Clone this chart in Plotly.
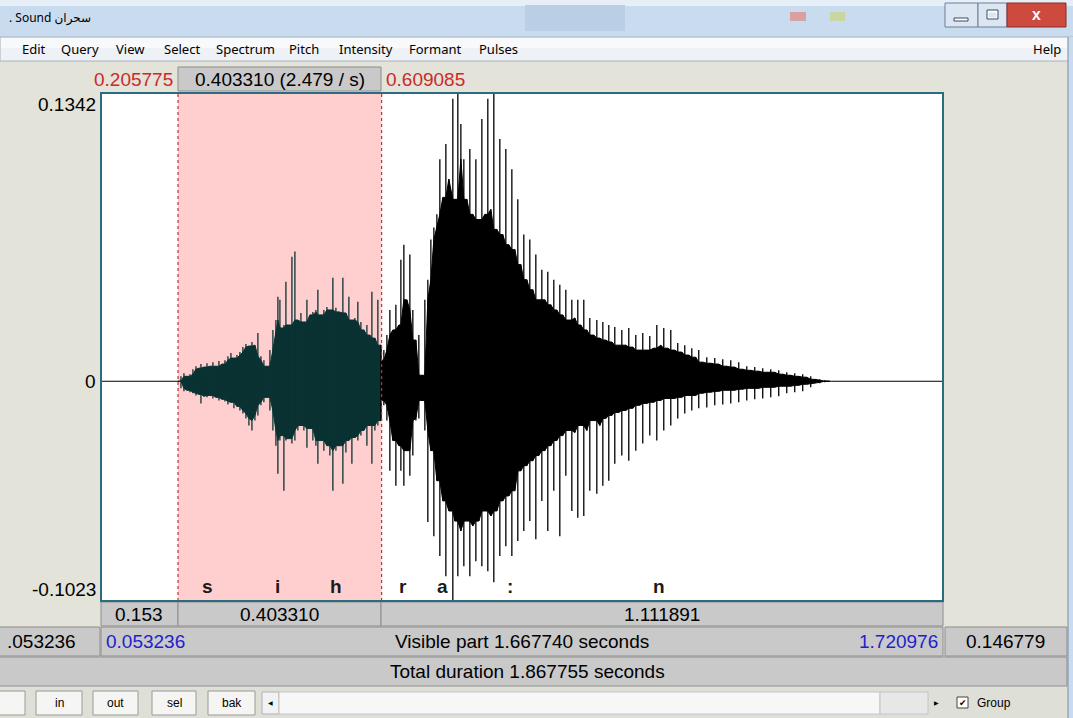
import plotly.graph_objects as go

W, H = 1073, 718

# ---------------------------------------------------------------- data
view_start, view_end = 0.053236, 1.720976
sel_start, sel_end = 0.205775, 0.609085
amp_top, amp_bottom = 0.1342, -0.1023
visible_part = 1.667740
total_duration = 1.867755
left_hidden = 0.053236
right_hidden = 0.146779
left_of_sel = 0.153
sel_length = 0.403310
right_of_sel = 1.111891

# Waveform extremes: time (s), upper (Pa), lower (Pa)
wave_t = [
    0.2056, 0.2116, 0.2175, 0.2235, 0.2294, 0.2353, 0.2413, 0.2472, 0.2512, 0.2571,
    0.2631, 0.2690, 0.2749, 0.2809, 0.2868, 0.2928, 0.2987, 0.3046, 0.3106, 0.3165,
    0.3225, 0.3284, 0.3343, 0.3403, 0.3462, 0.3522, 0.3581, 0.3640, 0.3700, 0.3759,
    0.3819, 0.3878, 0.3937, 0.3997, 0.4036, 0.4076, 0.4135, 0.4155, 0.4195, 0.4254,
    0.4314, 0.4373, 0.4432, 0.4492, 0.4551, 0.4611, 0.4670, 0.4729, 0.4789, 0.4828,
    0.4888, 0.4947, 0.5007, 0.5066, 0.5125, 0.5185, 0.5244, 0.5323, 0.5383, 0.5442,
    0.5502, 0.5561, 0.5620, 0.5680, 0.5739, 0.5799, 0.5858, 0.5898, 0.5957, 0.6016,
    0.6076,
    0.6096, 0.6135, 0.6195, 0.6254, 0.6313, 0.6373, 0.6432, 0.6472, 0.6531, 0.6591,
    0.6650, 0.6709, 0.6769, 0.6828, 0.6888, 0.6947, 0.7006, 0.7066, 0.7125, 0.7185,
    0.7244, 0.7303, 0.7363, 0.7422, 0.7501, 0.7541, 0.7600, 0.7660, 0.7719, 0.7779,
    0.7838, 0.7897, 0.7957, 0.8016, 0.8076, 0.8135, 0.8194, 0.8254, 0.8313, 0.8373,
    0.8432, 0.8491, 0.8551, 0.8610, 0.8670, 0.8729, 0.8788, 0.8848, 0.8907, 0.8967,
    0.9026, 0.9085, 0.9145, 0.9204, 0.9264, 0.9323, 0.9382, 0.9442, 0.9501, 0.9561,
    0.9620, 0.9679, 0.9739, 0.9798, 0.9858, 0.9917, 0.9976,
    1.0036, 1.0095, 1.0155, 1.0214, 1.0293, 1.0353, 1.0412, 1.0472, 1.0531, 1.0590,
    1.0650, 1.0709, 1.0788, 1.0848, 1.0927, 1.0986, 1.1065, 1.1125, 1.1204, 1.1263,
    1.1343, 1.1402, 1.1481, 1.1541, 1.1620, 1.1679, 1.1758, 1.1818, 1.1897, 1.1956,
    1.2036, 1.2095, 1.2174, 1.2234, 1.2313, 1.2372, 1.2451, 1.2531, 1.2610, 1.2689,
    1.2768, 1.2847, 1.2927, 1.3006, 1.3085, 1.3164, 1.3243, 1.3323, 1.3402, 1.3481,
    1.3560, 1.3639, 1.3719, 1.3798, 1.3877, 1.3956, 1.4035, 1.4115, 1.4194, 1.4273,
    1.4352, 1.4431, 1.4511, 1.4590, 1.4669, 1.4768, 1.4867, 1.4966,
]
wave_hi = [
    0.0, 0.0023, 0.0037, 0.0023, 0.0033, 0.0056, 0.0070, 0.0061, 0.0080, 0.0066,
    0.0084, 0.0070, 0.0089, 0.0070, 0.0094, 0.0080, 0.0098, 0.0117, 0.0131, 0.0108,
    0.0122, 0.0136, 0.0159, 0.0173, 0.0164, 0.0183, 0.0168, 0.0225, 0.0117, 0.0098,
    0.0070, 0.0145, 0.0239, 0.0285, 0.0393, 0.0379, 0.0248, 0.0262, 0.0463, 0.0262,
    0.0580, 0.0604, 0.0285, 0.0318, 0.0276, 0.0379, 0.0309, 0.0323, 0.0332, 0.0426,
    0.0309, 0.0332, 0.0346, 0.0332, 0.0482, 0.0342, 0.0323, 0.0482, 0.0318, 0.0393,
    0.0285, 0.0295, 0.0370, 0.0276, 0.0239, 0.0262, 0.0215, 0.0417, 0.0201, 0.0379,
    0.0168,
    0.0098, 0.0145, 0.0215, 0.0332, 0.0239, 0.0356, 0.0262, 0.0566, 0.0636, 0.0379,
    0.0590, 0.0332, 0.0192, 0.0215, 0.0028, 0.0379, 0.0473, 0.0660, 0.0716, 0.0777,
    0.1034, 0.0856, 0.1104, 0.0941, 0.1315, 0.0847, 0.1338, 0.1198, 0.1034, 0.0847,
    0.1081, 0.0777, 0.1034, 0.0753, 0.1221, 0.0777, 0.1315, 0.0800, 0.1338, 0.0707,
    0.1128, 0.0683, 0.1081, 0.0636, 0.0987, 0.0613, 0.0847, 0.0543, 0.0683, 0.0473,
    0.0660, 0.0426, 0.0590, 0.0379, 0.0519, 0.0379, 0.0510, 0.0356, 0.0473, 0.0332,
    0.0449, 0.0309, 0.0426, 0.0285, 0.0379, 0.0295, 0.0379,
    0.0262, 0.0379, 0.0239, 0.0295, 0.0215, 0.0285, 0.0201, 0.0276, 0.0192, 0.0262,
    0.0183, 0.0253, 0.0168, 0.0239, 0.0168, 0.0248, 0.0159, 0.0215, 0.0145, 0.0225,
    0.0145, 0.0211, 0.0154, 0.0262, 0.0168, 0.0248, 0.0154, 0.0239, 0.0145, 0.0178,
    0.0136, 0.0168, 0.0122, 0.0154, 0.0112, 0.0145, 0.0089, 0.0112, 0.0084, 0.0108,
    0.0080, 0.0103, 0.0070, 0.0098, 0.0066, 0.0089, 0.0056, 0.0070, 0.0051, 0.0066,
    0.0047, 0.0061, 0.0042, 0.0056, 0.0042, 0.0051, 0.0033, 0.0042, 0.0028, 0.0037,
    0.0023, 0.0033, 0.0019, 0.0023, 0.0009, 0.0009, 0.0005, 0.0,
]
wave_lo = [
    0.0, -0.0033, -0.0047, -0.0042, -0.0051, -0.0056, -0.0066, -0.0061, -0.0103, -0.0070,
    -0.0075, -0.0066, -0.0080, -0.0075, -0.0089, -0.0084, -0.0094, -0.0108, -0.0098, -0.0126,
    -0.0117, -0.0136, -0.0150, -0.0173, -0.0206, -0.0229, -0.0183, -0.0159, -0.0112, -0.0098,
    -0.0075, -0.0136, -0.0229, -0.0300, -0.0431, -0.0276, -0.0253, -0.0510, -0.0276, -0.0267,
    -0.0290, -0.0276, -0.0229, -0.0206, -0.0229, -0.0309, -0.0220, -0.0276, -0.0300, -0.0384,
    -0.0276, -0.0323, -0.0300, -0.0346, -0.0510, -0.0323, -0.0300, -0.0477, -0.0332, -0.0276,
    -0.0384, -0.0262, -0.0276, -0.0253, -0.0229, -0.0300, -0.0206, -0.0384, -0.0229, -0.0206,
    -0.0183,
    -0.0089, -0.0112, -0.0183, -0.0417, -0.0276, -0.0487, -0.0300, -0.0417, -0.0487, -0.0323,
    -0.0440, -0.0346, -0.0183, -0.0173, -0.0089, -0.0229, -0.0655, -0.0323, -0.0721, -0.0463,
    -0.0814, -0.0557, -0.0908, -0.0604, -0.1023, -0.0651, -0.0908, -0.0697, -0.0861, -0.0651,
    -0.0908, -0.0674, -0.0838, -0.0651, -0.0861, -0.0604, -0.0885, -0.0627, -0.0936, -0.0604,
    -0.0814, -0.0557, -0.0768, -0.0534, -0.0814, -0.0510, -0.0744, -0.0417, -0.0697, -0.0393,
    -0.0651, -0.0370, -0.0735, -0.0346, -0.0557, -0.0323, -0.0697, -0.0300, -0.0510, -0.0276,
    -0.0721, -0.0253, -0.0440, -0.0229, -0.0604, -0.0239, -0.0636,
    -0.0206, -0.0627, -0.0229, -0.0510, -0.0183, -0.0524, -0.0206, -0.0487, -0.0173, -0.0463,
    -0.0159, -0.0384, -0.0145, -0.0346, -0.0136, -0.0370, -0.0126, -0.0323, -0.0112, -0.0290,
    -0.0103, -0.0253, -0.0098, -0.0276, -0.0089, -0.0229, -0.0080, -0.0206, -0.0080, -0.0173,
    -0.0075, -0.0150, -0.0066, -0.0136, -0.0066, -0.0126, -0.0056, -0.0122, -0.0051, -0.0112,
    -0.0047, -0.0108, -0.0042, -0.0103, -0.0042, -0.0098, -0.0037, -0.0089, -0.0033, -0.0084,
    -0.0033, -0.0080, -0.0028, -0.0075, -0.0028, -0.0070, -0.0023, -0.0056, -0.0023, -0.0051,
    -0.0019, -0.0047, -0.0014, -0.0028, -0.0009, -0.0009, -0.0005, 0.0,
]

# Interval tier: segment labels and their times (s)
tier_labels = ["s", "i", "h", "r", "a", ":", "n"]
tier_times = [0.2650, 0.4036, 0.5185, 0.6511, 0.7303, 0.8630, 1.1580]

menu_items = ["Edit", "Query", "View", "Select", "Spectrum", "Pitch",
              "Intensity", "Formant", "Pulses"]
buttons = ["in", "out", "sel", "bak"]
window_title = ". Sound سحران"

# ---------------------------------------------------------------- helpers
def X(px):
    return px / W


def Y(py):
    return 1 - py / H


BEIGE = "#e3e3d9"
CELL = "#c9c9c9"
CELL_LINE = "#8e8e8e"
RED = "#cc2a2a"
BLUE = "#2222cc"
SANS = "Liberation Sans, Arial, sans-serif"
UI = "Noto Sans, DejaVu Sans, sans-serif"
FS = 19

shapes = []
annotations = []


def rect(x0, y0, x1, y1, fill, line=None, lw=1, layer="above"):
    shapes.append(dict(type="rect", xref="paper", yref="paper",
                       x0=X(x0), x1=X(x1), y0=Y(y1), y1=Y(y0),
                       fillcolor=fill, layer=layer,
                       line=dict(color=line or fill, width=lw if line else 0)))


def vline(x, y0, y1, color, lw=1):
    shapes.append(dict(type="line", xref="paper", yref="paper",
                       x0=X(x), x1=X(x), y0=Y(y0), y1=Y(y1),
                       line=dict(color=color, width=lw)))


def text(px, py, s, size=FS, color="black", anchor="center", family=SANS):
    annotations.append(dict(xref="paper", yref="paper", x=X(px), y=Y(py),
                            text=s, showarrow=False, xanchor=anchor,
                            yanchor="middle",
                            font=dict(size=size, color=color, family=family)))


# ---------------------------------------------------------------- window chrome
# title bar
rect(0, 0, W, 37, "#c8dbef")
rect(0, 0, W, 6, "#e6eef8")
rect(525, 5, 625, 31, "#bacfe6")
rect(790, 12, 806, 21, "#d9a0a0")
rect(830, 12, 845, 21, "#cad6a2")
text(7, 18, window_title, size=12, anchor="left", family=UI)
# caption buttons
rect(945, 3, 978, 27, "#dce6f2", "#6d7f98")
rect(978, 3, 1007, 27, "#dce6f2", "#6d7f98")
rect(1007, 3, 1066, 27, "#cc4a3e", "#8c2c24")
rect(954, 18, 968, 21, "#ffffff", "#3a4a60")
rect(987, 10, 998, 19, "#ffffff", "#3a4a60")
rect(989, 13, 996, 17, "#dce6f2", "#dce6f2")
text(1036, 15, "<b>X</b>", size=13, color="white", family=UI)

# menu bar
rect(0, 37, W, 61, "#eef1f5", "#a9b2bd")
rect(1, 38, W - 6, 48, "#f7f9fb")
menu_x = [20, 59, 114, 162, 214, 287, 337, 407, 477]
for name, mx in zip(menu_items, menu_x):
    text(mx, 49, name, size=13, anchor="left", family=UI)
text(1063, 49, "Help", size=13, anchor="right", family=UI)

# right window frame
rect(1068, 37, W, H, "#c8dbef")
vline(1068, 37, H, "#7d8da0")

# ---------------------------------------------------------------- selection header
text(175, 79, f"{sel_start:.6f}", color=RED, anchor="right")
rect(178, 67, 381, 91, CELL, CELL_LINE)
text(280, 79, f"{sel_length:.6f} ({1 / sel_length:.3f} / s)")
text(384, 79, f"{sel_end:.6f}", color=RED, anchor="left")

# amplitude labels
text(98, 104, f"{amp_top:.4f}", anchor="right")
text(98, 381, "0", anchor="right")
text(98, 589, f"{amp_bottom:.4f}", anchor="right")

# ---------------------------------------------------------------- bottom panels
rect(101, 602, 178, 626, CELL, CELL_LINE)
rect(178, 602, 381, 626, CELL, CELL_LINE)
rect(381, 602, 943, 626, CELL, CELL_LINE)
text(139, 614, f"{left_of_sel:.3f}")
text(280, 614, f"{sel_length:.6f}")
text(662, 614, f"{right_of_sel:.6f}")

rect(-2, 627, 100, 656, CELL, CELL_LINE)
rect(101, 627, 943, 656, CELL, CELL_LINE)
rect(945, 627, 1067, 656, CELL, CELL_LINE)
text(5, 641, f"{left_hidden:.6f}"[1:], anchor="left")
text(104, 641, f"{view_start:.6f}", color=BLUE, anchor="left")
text(522, 641, f"Visible part {visible_part:.6f} seconds")
text(940, 641, f"{view_end:.6f}", color=BLUE, anchor="right")
text(1005, 641, f"{right_hidden:.6f}")

rect(-2, 657, 1067, 686, CELL, CELL_LINE)
text(527, 671, f"Total duration {total_duration:.6f} seconds")

# button strip
rect(0, 687, 1067, H, "#dedfd7")
rect(-5, 691, 25, 715, "#f5f5f3", "#9a9a9a")
for name, (bx0, bx1) in zip(buttons, [(36, 82), (93, 138), (152, 196), (208, 255)]):
    rect(bx0, 691, bx1, 715, "#f5f5f3", "#9a9a9a")
    text((bx0 + bx1) / 2, 703, name, size=12)
rect(262, 692, 279, 714, "#f2f2f2", "#b0b0b0")
text(270, 703, "◀", size=6)
rect(279, 692, 880, 714, "#f7f7f7", "#c4c4c4")
rect(880, 692, 928, 714, "#e7e7e7", "#c4c4c4")
text(936, 703, "▶", size=6)
rect(957, 697, 968, 708, "#ffffff", "#444444")
text(962.5, 702.5, "✔", size=9, family="DejaVu Sans")
text(975, 703, "Group", size=12, anchor="left")

# ---------------------------------------------------------------- sound area
shapes.append(dict(type="rect", xref="x", yref="y", x0=sel_start, x1=sel_end,
                   y0=amp_bottom, y1=amp_top, fillcolor="#ffcfcf",
                   line=dict(width=0), layer="below"))
for edge in (sel_start, sel_end):
    shapes.append(dict(type="line", xref="x", yref="y", x0=edge, x1=edge,
                       y0=amp_bottom, y1=amp_top,
                       line=dict(color="#c0303a", width=1.2, dash="dot")))
shapes.append(dict(type="rect", xref="paper", yref="paper",
                   x0=X(101), x1=X(943), y0=Y(601), y1=Y(93),
                   line=dict(color="#2b6c82", width=2), fillcolor="rgba(0,0,0,0)"))

fig = go.Figure()

# zero line across the visible window
fig.add_trace(go.Scatter(x=[view_start, view_end], y=[0, 0], mode="lines",
                         line=dict(color="black", width=1), hoverinfo="skip"))

split = sum(1 for t in wave_t if t <= sel_end)


def add_wave(idx, color):
    ts = [wave_t[i] for i in idx]
    hs = [wave_hi[i] for i in idx]
    ls = [wave_lo[i] for i in idx]
    n = len(ts)
    # solid core: the smaller excursion among neighbouring periods
    core_h = [min(hs[max(0, i - 1):i + 2]) for i in range(n)]
    core_l = [max(ls[max(0, i - 1):i + 2]) for i in range(n)]
    fig.add_trace(go.Scatter(x=ts + ts[::-1], y=core_h + core_l[::-1], mode="lines",
                             fill="toself", fillcolor=color,
                             line=dict(color=color, width=1), hoverinfo="skip"))
    # individual period peaks as thin strokes
    sx, sy = [], []
    for t, h, l in zip(ts, hs, ls):
        sx += [t, t, None]
        sy += [l, h, None]
    fig.add_trace(go.Scatter(x=sx, y=sy, mode="lines",
                             line=dict(color=color, width=1.3), hoverinfo="skip"))


add_wave(list(range(0, split)), "#0a3232")
add_wave(list(range(split - 1, len(wave_t))), "#000000")

# segment labels
for lab, t in zip(tier_labels, tier_times):
    annotations.append(dict(xref="x", yref="paper", x=t, y=Y(586), text="<b>" + lab + "</b>",
                            showarrow=False, xanchor="center", yanchor="middle",
                            font=dict(size=19, color="#1a1a1a", family=SANS)))

fig.update_layout(
    width=W, height=H,
    margin=dict(l=0, r=0, t=0, b=0),
    paper_bgcolor=BEIGE, plot_bgcolor="white",
    showlegend=False,
    xaxis=dict(domain=[X(101), X(943)], range=[view_start, view_end],
               visible=False, fixedrange=True),
    yaxis=dict(domain=[Y(601), Y(93)], range=[amp_bottom, amp_top],
               visible=False, fixedrange=True),
    shapes=shapes, annotations=annotations,
)

fig.write_html("out.html", config={"displayModeBar": False})
